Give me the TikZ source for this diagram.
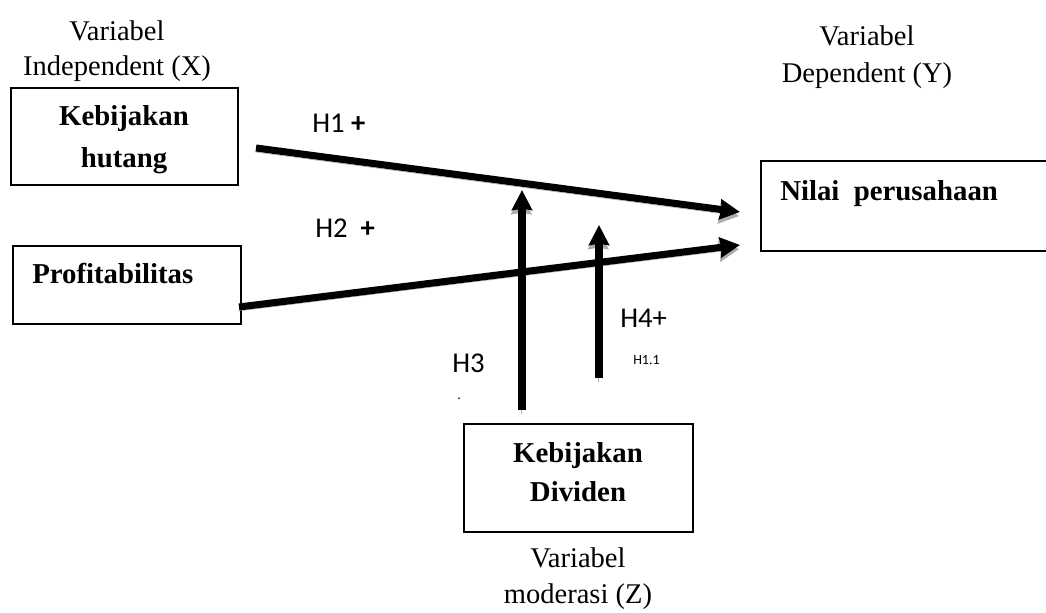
\documentclass[tikz,border=0pt]{standalone}
\usepackage{fontspec}
\setmainfont{Liberation Serif}
\newfontfamily\sansH{Carlito}
\usetikzlibrary{arrows.meta}
\begin{document}
\begin{tikzpicture}[x=0.75pt,y=-0.75pt,
  box/.style={draw, line width=1.2pt, inner sep=0pt},
  txt/.style={inner sep=0pt, font=\fontsize{21.4}{26}\selectfont},
  btxt/.style={inner sep=0pt, font=\fontsize{21.6}{26}\selectfont\bfseries},
  htxt/.style={inner sep=0pt, font=\sansH\fontsize{21.5}{25}\selectfont},
  stxt/.style={inner sep=0pt, font=\sansH\fontsize{10.5}{12}\selectfont},
  rel/.style={line width=5.3pt, -{Triangle[length=15pt,width=15pt,inset=1pt]},
     preaction={draw=gray!65, transform canvas={xshift=-0.6pt,yshift=-3pt}}}
]
\useasboundingbox (0,0) rectangle (1046,612);

% boxes
\node[box, anchor=north west, minimum width=170.25pt, minimum height=72.75pt] (kh) at (10,87) {};
\node[box, anchor=north west, minimum width=171pt, minimum height=58.5pt] (pf) at (12,245) {};
\node[box, anchor=north west, minimum width=217.5pt, minimum height=67.5pt] (nv) at (760,160) {};
\node[box, anchor=north west, minimum width=171.75pt, minimum height=81pt] (kd) at (463,423) {};

% texts
\node[txt, anchor=base] (xv) at (117,40) {Variabel};
\node[txt, anchor=base] (xi) at (117,75) {Independent (X)};
\node[btxt, anchor=base] (kh1) at (124,125) {Kebijakan};
\node[btxt, anchor=base] (kh2) at (124,167) {hutang};
\node[btxt, anchor=base west] (pr) at (32,283) {Profitabilitas};
\node[txt, anchor=base] (yv) at (867,45) {Variabel};
\node[txt, anchor=base] (yd) at (867,82) {Dependent (Y)};
\node[btxt, anchor=base west] (np) at (780,200) {Nilai\ \ perusahaan};
\node[btxt, anchor=base] (kd1) at (578,462) {Kebijakan};
\node[btxt, anchor=base] (kd2) at (578,501) {Dividen};
\node[txt, anchor=base] (zv) at (578,567) {Variabel};
\node[txt, anchor=base] (zm) at (578,603) {moderasi (Z)};

% hypothesis labels
\node[htxt, anchor=base west] (h1) at (312,132) {H1 \textbf{+}};
\node[htxt, anchor=base west] (h2) at (315,237) {H2\ \ \textbf{+}};
\node[htxt, anchor=base west] (h3) at (452,372) {H3};
\node[stxt, anchor=base west] (h3d) at (457,399) {.};
\node[htxt, anchor=base west] (h4) at (620,327) {H4+};
\node[stxt, anchor=base west] (h11) at (633,364) {H1.1};

% connector ends
\coordinate (a1s) at (256,148);
\coordinate (a1e) at (740,212);
\coordinate (a2s) at (239,307);
\coordinate (a2e) at (740,245);
\coordinate (v1s) at (522,410);
\coordinate (v1e) at (522,190);
\coordinate (v2s) at (599,378);
\coordinate (v2e) at (599,225);

\draw[rel] (a1s) -- (a1e);
\draw[rel] (a2s) -- (a2e);
\draw[rel] (v1s) -- (v1e);
\draw[rel] (v2s) -- (v2e);
\end{tikzpicture}
\end{document}
